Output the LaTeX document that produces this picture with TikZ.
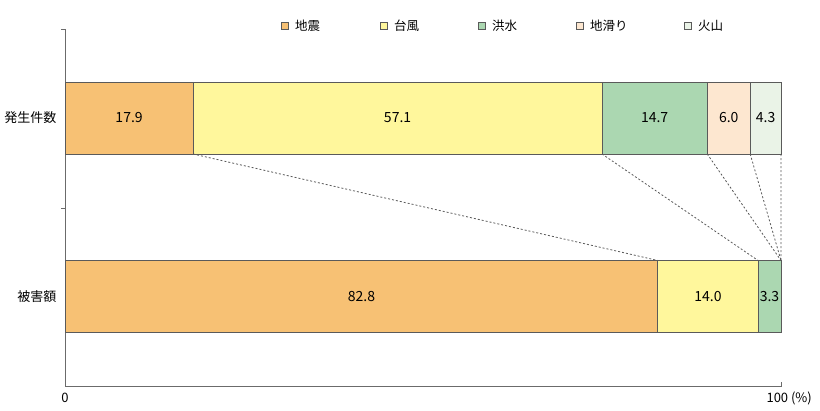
\documentclass[tikz,border=0pt]{standalone}
\usepackage{fontspec}
\setmainfont{Noto Sans CJK JP}
\usetikzlibrary{positioning}

\definecolor{quake}{HTML}{F7C174}
\definecolor{typhoon}{HTML}{FFF79C}
\definecolor{flood}{HTML}{ABD7B1}
\definecolor{slide}{HTML}{FDE7D0}
\definecolor{volcano}{HTML}{EAF3E7}
\definecolor{edge}{HTML}{5A5A5A}

\tikzset{
    seg/.style={draw=edge, line width=0.9pt, minimum height=72pt, inner sep=0pt, outer sep=0pt,
        font=\fontsize{14}{16}\selectfont},
    key/.style={draw=edge, line width=0.7pt, minimum size=7pt, inner sep=0pt},
    guide/.style={edge, line width=0.8pt, dash pattern=on 2pt off 2pt}
}

\begin{document}
\begin{tikzpicture}[x=1pt, y=-1pt]
                \useasboundingbox (0,0) rectangle (820,410);

                % axes
                \draw[edge!90, line width=0.8pt] (65,29)--(65,386)--(781,386)--(781,382);
                \foreach \v in {29, 208}
                    {
                        \draw[edge!90, line width=0.8pt] (61,\v)--(65,\v);
                    }
                \node[font=\fontsize{13}{15}\selectfont] (zero) at (65,398) {0};
                \node[anchor=west, font=\fontsize{13}{15}\selectfont] (hundred) at (763,398) {100 (\%)};

                % bars
                \node[seg, fill=quake, minimum width={17.9*7.16}, anchor=west] (t1) at (65,118) {17.9};
                \node[seg, fill=typhoon, minimum width={57.1*7.16}, right=0pt of t1] (t2) {57.1};
                \node[seg, fill=flood, minimum width={14.7*7.16}, right=0pt of t2] (t3) {14.7};
                \node[seg, fill=slide, minimum width={6.0*7.16}, right=0pt of t3] (t4) {6.0};
                \node[seg, fill=volcano, minimum width={4.3*7.16}, right=0pt of t4] (t5) {4.3};

                \node[seg, fill=quake, minimum width={82.8*7.16}, anchor=west] (b1) at (65,296.5) {82.8};
                \node[seg, fill=typhoon, minimum width={14.0*7.16}, right=0pt of b1] (b2) {14.0};
                \node[seg, fill=flood, minimum width={3.2*7.16}, right=0pt of b2] (b3) {3.3};

                \node[anchor=east, font=\fontsize{13}{15}\selectfont] (count) at (60,118) {発生件数};
                \node[anchor=east, font=\fontsize{13}{15}\selectfont] (damage) at (60,296.5) {被害額};

                % guide lines
                \draw[guide] (t1.south east)--(b1.north east);
                \draw[guide] (t2.south east)--(b2.north east);
                \foreach \u in {3, 4, 5}
                    {
                        \draw[guide] (t\u.south east)--(b3.north east);
                    }

                % legend
                \foreach \x/\c/\t [count=\i] in {285/quake/地震, 384/typhoon/台風, 482/flood/洪水, 580/slide/地滑り, 688/volcano/火山}
                    {
                        \node[key, fill=\c] (k\i) at (\x,26) {};
                        \node[right=6pt of k\i, inner sep=0pt, font=\fontsize{12.5}{14}\selectfont] (l\i) {\t};
                    }
            \end{tikzpicture}
\end{document}
